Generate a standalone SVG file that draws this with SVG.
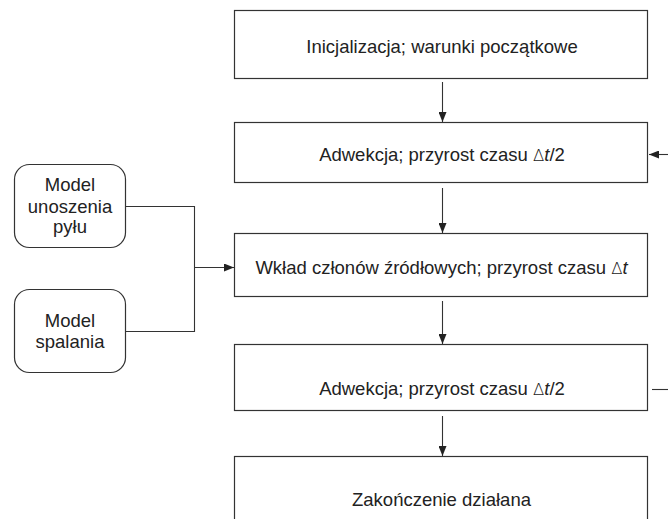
<svg xmlns="http://www.w3.org/2000/svg" width="668" height="519" viewBox="0 0 668 519">
<defs>
<marker id="ah" viewBox="0 0 10 8" refX="10" refY="4" markerWidth="10" markerHeight="8" markerUnits="userSpaceOnUse" orient="auto">
<path d="M0,0 L10,4 L0,8 Z" fill="#222"/>
</marker>
</defs>
<style>
.box{fill:#fff;stroke:#333;stroke-width:1.2}
.t{font-family:"Liberation Sans",Arial,sans-serif;font-size:18.5px;fill:#222;text-anchor:middle}
.c{fill:none;stroke:#333;stroke-width:1.1}
.a{marker-end:url(#ah)}
.d{font-family:"DejaVu Sans",sans-serif;font-size:16.5px;font-weight:300}
.i{font-style:italic}
</style>
<rect width="668" height="519" fill="#fff"/>
<g id="n1"><rect class="box" x="234.5" y="10.5" width="413" height="68"/><text class="t" x="442" y="53">Inicjalizacja; warunki początkowe</text></g>
<g id="n2"><rect class="box" x="234.5" y="122.5" width="413" height="60"/><text class="t" x="442" y="160.5">Adwekcja; przyrost czasu <tspan class="d">Δ</tspan><tspan class="i">t</tspan>/2</text></g>
<g id="n3"><rect class="box" x="234.5" y="233.5" width="413" height="63"/><text class="t" x="441.5" y="274">Wkład członów źródłowych; przyrost czasu <tspan class="d">Δ</tspan><tspan class="i">t</tspan></text></g>
<g id="n4"><rect class="box" x="234.5" y="344.5" width="413" height="66"/><text class="t" x="442" y="394.5">Adwekcja; przyrost czasu <tspan class="d">Δ</tspan><tspan class="i">t</tspan>/2</text></g>
<g id="n5"><rect class="box" x="234.5" y="456.5" width="413" height="70"/><text class="t" x="441.5" y="506">Zakończenie działana</text></g>
<g id="m1"><rect class="box" x="14.5" y="164.5" width="111" height="83" rx="15"/><text class="t" x="70" y="190.5">Model</text><text class="t" x="70" y="212.5">unoszenia</text><text class="t" x="70" y="232.5">pyłu</text></g>
<g id="m2"><rect class="box" x="14.5" y="289.5" width="111" height="83" rx="15"/><text class="t" x="70" y="326.5">Model</text><text class="t" x="70" y="348">spalania</text></g>
<g id="connectors">
<line class="c a" x1="442.5" y1="82" x2="442.5" y2="122"/>
<line class="c a" x1="442.5" y1="188" x2="442.5" y2="233"/>
<line class="c a" x1="442.5" y1="301" x2="442.5" y2="344"/>
<line class="c a" x1="442.5" y1="416" x2="442.5" y2="456"/>
<line class="c a" x1="668" y1="154.5" x2="649" y2="154.5"/>
<line class="c" x1="652" y1="389.5" x2="668" y2="389.5"/>
<polyline class="c" points="125.5,206.5 194.5,206.5 194.5,331.5 125.5,331.5"/>
<line class="c a" x1="194.5" y1="267.5" x2="234" y2="267.5"/>
</g>
</svg>
